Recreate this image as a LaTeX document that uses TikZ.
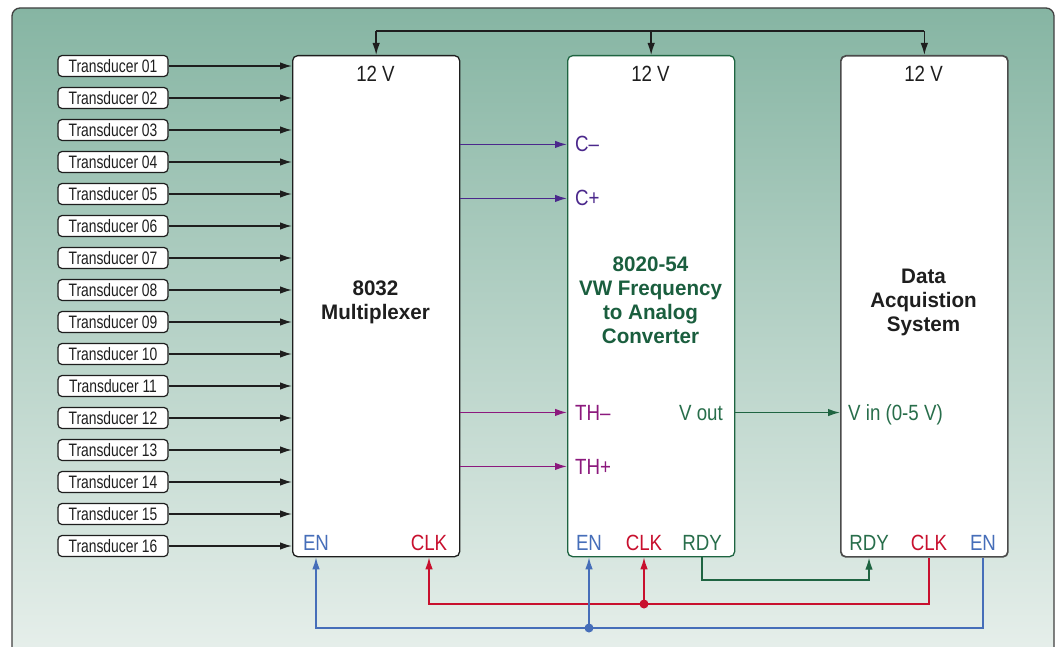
\documentclass[tikz,border=0pt]{standalone}
\usepackage{fontspec}
\setmainfont{Liberation Sans}
\newfontfamily\lblfont{Liberation Sans}[FakeStretch=0.85]
\newfontfamily\trfont{Liberation Sans}[FakeStretch=0.77]
\newfontfamily\titfont{Liberation Sans}[FakeStretch=0.98]
\usetikzlibrary{arrows.meta}
\definecolor{bgtop}{RGB}{134,181,163}
\definecolor{bgbot}{RGB}{232,240,236}
\definecolor{cpurple}{RGB}{75,40,140}
\definecolor{cmag}{RGB}{140,25,125}
\definecolor{cgreen}{RGB}{30,100,65}
\definecolor{cgreentext}{RGB}{40,110,75}
\definecolor{ctitle}{RGB}{26,94,62}
\definecolor{cblue}{RGB}{70,110,185}
\definecolor{cred}{RGB}{200,16,46}
\definecolor{ink}{RGB}{30,30,30}
\tikzset{
  arr/.style={-{Latex[length=12pt,width=7.5pt]}},
  wire/.style={line width=1.4pt},
  tbox/.style={draw=ink, line width=1.2pt, fill=white, rounded corners=4pt,
    minimum width=110pt, minimum height=21pt, inner sep=0pt,
    font=\trfont\fontsize{18}{20}\selectfont, text=ink, text height=13pt, text depth=0pt},
  bigbox/.style={draw, line width=1.3pt, fill=white, rounded corners=5pt,
    minimum width=167pt, minimum height=501pt, anchor=north west, inner sep=0pt},
  lbl/.style={font=\lblfont\fontsize{22}{24}\selectfont, inner sep=0pt, anchor=base},
  title/.style={font=\titfont\bfseries\fontsize{21}{24}\selectfont, align=center, inner sep=0pt},
}
\begin{document}
\begin{tikzpicture}[x=1pt,y=-1pt]
\useasboundingbox (0,0) rectangle (1057,647);
\clip (0,0) rectangle (1057,647);
% background
\shade[top color=bgtop,bottom color=bgbot,rounded corners=8pt] (12,8) rectangle (1054,665);
\draw[ink!85,line width=1.3pt,rounded corners=8pt] (12,8) rectangle (1054,665);

% main boxes
\node[bigbox, draw=ink] (mux) at (292,55) {};
\node[bigbox, draw=cgreen] (conv) at (567,55) {};
\node[bigbox, draw=ink!80, line width=1.7pt] (daq) at (840,55) {};

% titles
\node[title, text=ink] (muxT) at (375.5,302) {8032\\Multiplexer};
\node[title, text=ctitle] (convT) at (650.5,300) {8020-54\\VW Frequency\\to Analog\\Converter};
\node[title, text=ink] (daqT) at (923.5,302) {Data\\Acquistion\\System};

% 12 V labels
\node[lbl, text=ink] (mux12) at (375.5,81.5) {12 V};
\node[lbl, text=ink] (conv12) at (650.5,81.5) {12 V};
\node[lbl, text=ink] (daq12) at (923.5,81.5) {12 V};

% power distribution
\coordinate (pw) at (650,31);
\draw[wire,ink] (mux.north |- pw) -- (daq.north |- pw);
\draw[wire,ink,arr] (mux.north |- pw) -- (mux.north);
\draw[wire,ink,arr] (conv.north |- pw) -- (conv.north);
\draw[wire,ink,arr] (daq.north |- pw) -- (daq.north);

% transducers
\foreach \i/\t in {1/01,2/02,3/03,4/04,5/05,6/06,7/07,8/08,9/09,10/10,11/11,12/12,13/13,14/14,15/15,16/16}{
  \node[tbox] (t\i) at (113,{34+32*\i}) {Transducer \t};
  \draw[wire,ink,arr] (t\i.east) -- (t\i.east -| mux.west);
}

% converter inputs
\node[lbl, anchor=base west, text=cpurple] (cm) at (575,152) {C–};
\node[lbl, anchor=base west, text=cpurple] (cp) at (575,206) {C+};
\node[lbl, anchor=base west, text=cmag] (thm) at (575,420) {TH–};
\node[lbl, anchor=base west, text=cmag] (thp) at (575,474) {TH+};
\draw[wire,cpurple,arr] (cm.west -| mux.east) -- (cm.west -| conv.west);
\draw[wire,cpurple,arr] (cp.west -| mux.east) -- (cp.west -| conv.west);
\draw[wire,cmag,arr] (thm.west -| mux.east) -- (thm.west -| conv.west);
\draw[wire,cmag,arr] (thp.west -| mux.east) -- (thp.west -| conv.west);

% V out -> V in
\node[lbl, anchor=base east, text=cgreentext] (vout) at (723,420) {V out};
\node[lbl, anchor=base west, text=cgreentext] (vin) at (848,420) {V in (0-5 V)};
\draw[wire,cgreen,arr] (vout.east -| conv.east) -- (vout.east -| daq.west);

% bottom labels
\node[lbl, text=cblue] (muxEN) at (316,550) {EN};
\node[lbl, text=cred] (muxCLK) at (429,550) {CLK};
\node[lbl, text=cblue] (convEN) at (589,550) {EN};
\node[lbl, text=cred] (convCLK) at (644,550) {CLK};
\node[lbl, text=cgreentext] (convRDY) at (702,550) {RDY};
\node[lbl, text=cgreentext] (daqRDY) at (869,550) {RDY};
\node[lbl, text=cred] (daqCLK) at (929,550) {CLK};
\node[lbl, text=cblue] (daqEN) at (983,550) {EN};

% bottom wiring
\coordinate (jR) at (644,604);
\coordinate (jB) at (589,628);
\coordinate (jG) at (702,580);
\draw[wire,cgreen,arr] (conv.south -| convRDY) -- (jG) -| (daq.south -| daqRDY);
\draw[wire,cred,arr] (jR) -| (mux.south -| muxCLK);
\draw[wire,cred] (jR) -| (daq.south -| daqCLK);
\draw[wire,cred,arr] (jR) -- (conv.south -| convCLK);
\draw[wire,cblue,arr] (jB) -| (mux.south -| muxEN);
\draw[wire,cblue] (jB) -| (daq.south -| daqEN);
\draw[wire,cblue,arr] (jB) -- (conv.south -| convEN);
\fill[cred] (jR) circle (4.5pt);
\fill[cblue] (jB) circle (4.5pt);
\end{tikzpicture}
\end{document}
